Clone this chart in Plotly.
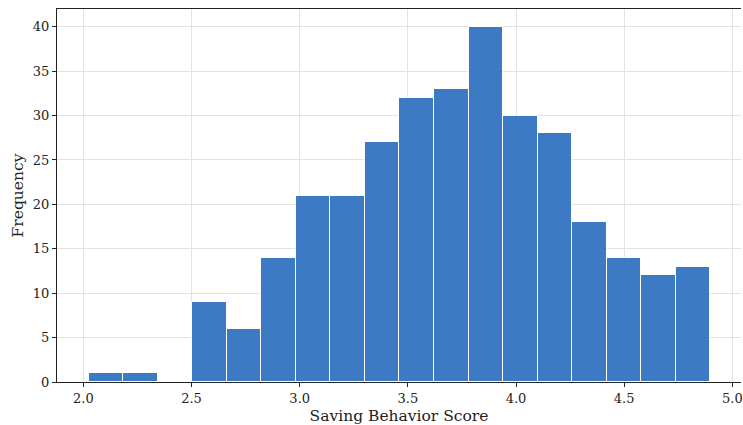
import plotly.graph_objects as go

# Histogram of saving behavior scores (18 equal-width bins)
bin_start = 2.024
bin_end = 4.898
counts = [1, 1, 0, 9, 6, 14, 21, 21, 27, 32, 33, 40, 30, 28, 18, 14, 12, 13]

n_bins = len(counts)
bin_width = (bin_end - bin_start) / n_bins
centers = [bin_start + (i + 0.5) * bin_width for i in range(n_bins)]

font_family = "DejaVu Serif"
axis_color = "#222222"

fig = go.Figure(
    go.Bar(
        x=centers,
        y=counts,
        width=[bin_width] * n_bins,
        marker=dict(color="#2f70c0", opacity=0.93,
                    line=dict(color="white", width=1)),
        hoverinfo="x+y",
    )
)

fig.update_layout(
    width=743,
    height=425,
    margin=dict(l=57, r=0, t=9, b=43),
    paper_bgcolor="white",
    plot_bgcolor="white",
    font=dict(family=font_family, size=13, color=axis_color),
    showlegend=False,
    bargap=0,
)

fig.update_xaxes(
    range=[1.878, 5.040],
    tickvals=[2.0, 2.5, 3.0, 3.5, 4.0, 4.5, 5.0],
    ticktext=["2.0", "2.5", "3.0", "3.5", "4.0", "4.5", "5.0"],
    ticklabeloverflow="allow",
    ticks="outside", ticklen=4, tickcolor=axis_color,
    showline=True, linecolor=axis_color, linewidth=1.2, mirror=True,
    showgrid=True, gridcolor="#e3e3e3", gridwidth=1,
    zeroline=False,
    title=dict(text="Saving Behavior Score", font=dict(size=15.5), standoff=6),
)

fig.update_yaxes(
    range=[0, 42],
    tickvals=[0, 5, 10, 15, 20, 25, 30, 35, 40],
    ticks="outside", ticklen=4, tickcolor=axis_color,
    showline=True, linecolor=axis_color, linewidth=1.2, mirror=False,
    showgrid=True, gridcolor="#e3e3e3", gridwidth=1,
    zeroline=False,
    title=dict(text="Frequency", font=dict(size=15.5), standoff=5),
)

fig.write_html("out.html")
